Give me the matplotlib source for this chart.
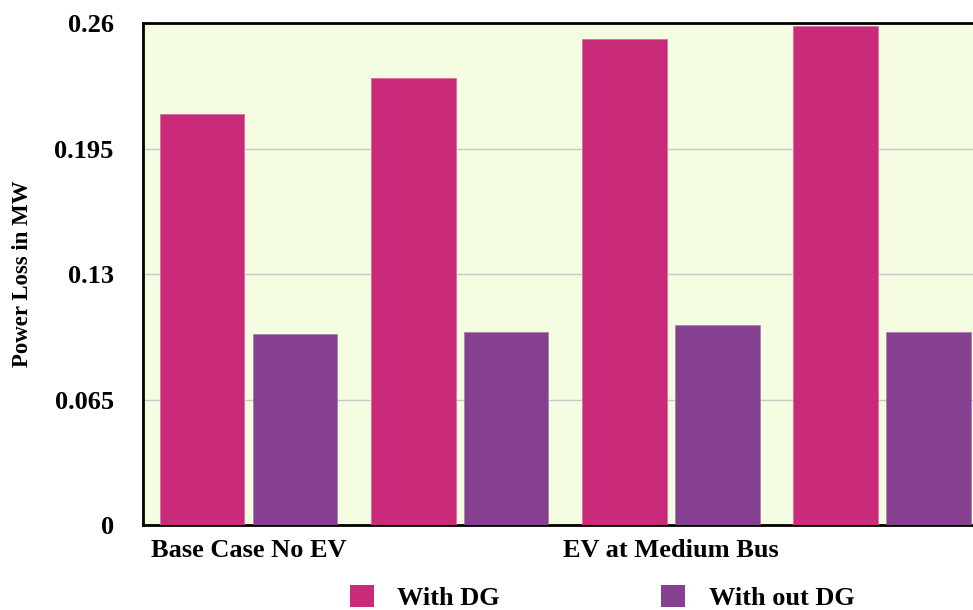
import matplotlib
matplotlib.use("Agg")
import matplotlib.pyplot as plt
import numpy as np
from matplotlib.patches import Patch

# Power loss per scenario (MW)
groups = ["Base Case No EV", "", "EV at Medium Bus", ""]
with_dg = [0.2129, 0.2315, 0.2517, 0.2584]
without_dg = [0.0989, 0.1000, 0.1036, 0.1000]
series_names = ["With DG", "With out DG"]
yticks = [0, 0.065, 0.13, 0.195, 0.26]
ytick_labels = ["0", "0.065", "0.13", "0.195", "0.26"]

c_dg = "#CA2A7A"
c_nodg = "#85418F"
bg = "#F4FDE1"

plt.rcParams["font.family"] = ["Liberation Serif", "DejaVu Serif"]
plt.rcParams["font.weight"] = "bold"

fig = plt.figure(figsize=(9.73, 6.10), dpi=100)
ax = fig.add_axes([0.147, 0.1393, 0.868, 0.823])
ax.set_facecolor(bg)

x = np.arange(len(groups))
w = 0.40
off = 0.22
ax.bar(x - off, with_dg, w, color=c_dg, edgecolor="#E06AA4", linewidth=0.6, zorder=3)
ax.bar(x + off, without_dg, w, color=c_nodg, edgecolor="#A070AA", linewidth=0.4, zorder=3)

ax.set_xlim(-0.5, 3.5)
ax.set_ylim(0, 0.26)
ax.set_yticks(yticks)
ax.set_yticklabels(ytick_labels, fontsize=19, fontweight="bold")
ax.set_xticks(x)
ax.set_xticklabels(groups, fontsize=19, fontweight="bold")
ax.tick_params(axis="x", length=0, pad=10)
ax.tick_params(axis="y", length=0, pad=21)
ax.yaxis.grid(True, color="#C8C8C8", linewidth=1.0, zorder=0)
ax.set_axisbelow(True)

for s in ["left", "top", "bottom"]:
    ax.spines[s].set_linewidth(2.0)
    ax.spines[s].set_color("black")
ax.spines["right"].set_visible(False)

ax.set_ylabel("Power Loss in MW", fontsize=16.5, fontweight="bold",
              va="center", ha="center")
ax.yaxis.set_label_coords(-0.143, 0.5)

handles = [Patch(facecolor=c_dg, label=series_names[0]),
           Patch(facecolor=c_nodg, label=series_names[1])]
fig.legend(handles=handles, loc="center", bbox_to_anchor=(0.619, 0.02), ncol=2,
           frameon=False, prop={"family": "Liberation Serif", "weight": "bold", "size": 19},
           handlelength=0.9, handleheight=0.85, handletextpad=0.9, columnspacing=6.1,
           borderpad=0, borderaxespad=0)

fig.savefig("out.png", dpi=100)
